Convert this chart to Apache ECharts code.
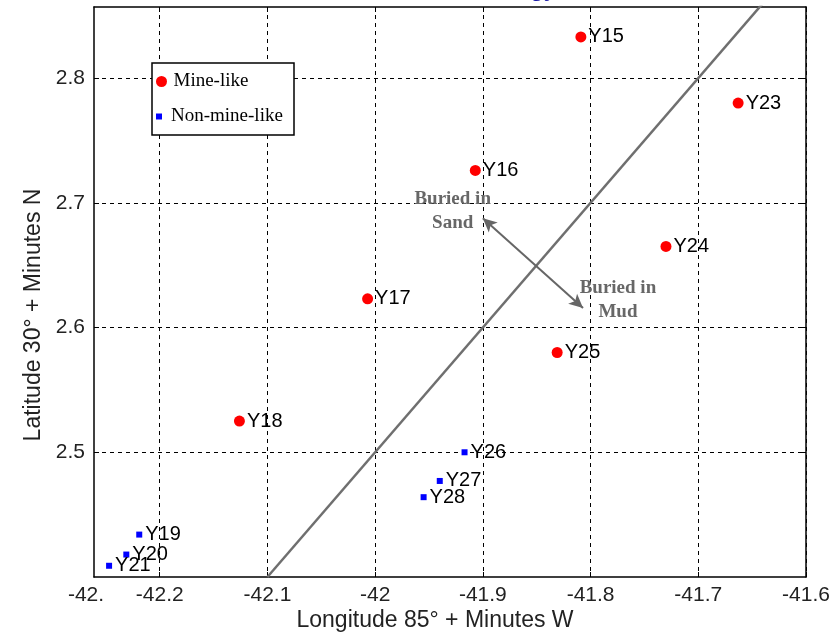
<!DOCTYPE html>
<html>
<head>
<meta charset="utf-8">
<script src="https://cdn.jsdelivr.net/npm/echarts@6/dist/echarts.min.js"></script>
<style>html,body{margin:0;padding:0;background:#fff;}#chart{width:840px;height:635px;}</style>
</head>
<body>
<div id="chart"></div>
<script>
// ---- data ----
var mineNames = ['Y15', 'Y16', 'Y17', 'Y18', 'Y23', 'Y24', 'Y25'];
var mineLon = [-41.809, -41.907, -42.007, -42.126, -41.663, -41.730, -41.831];
var mineLat = [2.833, 2.726, 2.623, 2.525, 2.780, 2.665, 2.580];

var nonNames = ['Y19', 'Y20', 'Y21', 'Y26', 'Y27', 'Y28'];
var nonLon = [-42.219, -42.231, -42.247, -41.917, -41.940, -41.955];
var nonLat = [2.434, 2.418, 2.409, 2.500, 2.477, 2.464];

var xTicks = [-42.2, -42.1, -42, -41.9, -41.8, -41.7, -41.6];
var yTicks = [2.5, 2.6, 2.7, 2.8];
var xRange = [-42.261, -41.6];
var yRange = [2.4, 2.857];

var boundaryLine = [[-42.1, 2.4], [-41.6, 2.9]];
var arrowEnds = [[-41.900, 2.6877], [-41.807, 2.6156]];
var annoText = ['Buried in\nSand', 'Buried in\nMud'];
var annoPos = [[-41.928, 2.6933], [-41.7746, 2.622]];

// ---- build ----
function pts(lon, lat, names) {
  return lon.map(function (v, i) { return { value: [v, lat[i]], name: names[i] }; });
}
var sans = 'Liberation Sans, Arial, sans-serif';
var serif = 'Liberation Serif, Times New Roman, serif';

var chart = echarts.init(document.getElementById('chart'), null, { renderer: 'canvas' });
var pointLabel = {
  show: true, position: 'right', formatter: '{b}',
  fontFamily: sans, fontSize: 20, color: '#000'
};
var option = {
  backgroundColor: '#fff',
  animation: false,
  grid: { left: 94, right: 34, top: 7, bottom: 58, containLabel: false },
  xAxis: [{
    type: 'value', min: xRange[0], max: xRange[1],
    axisLine: { show: true, onZero: false, lineStyle: { color: '#000', width: 1.5 } },
    axisTick: { show: true, inside: true, length: 5, customValues: xTicks, lineStyle: { color: '#000' } },
    axisLabel: {
      show: true, margin: 8, fontFamily: sans, fontSize: 21, color: '#222',
      customValues: [xRange[0]].concat(xTicks),
      formatter: function (v) { return v < -42.25 ? '{a|-42.}' : String(+v.toFixed(1)); },
      rich: { a: { fontFamily: sans, fontSize: 21, color: '#222', padding: [0, 16, 0, 0] } }
    },
    splitLine: { show: true, lineStyle: { color: '#000', type: [4, 4], width: 1 } }
  }, {
    type: 'value', position: 'top', min: xRange[0], max: xRange[1],
    axisLine: { show: true, onZero: false, lineStyle: { color: '#000', width: 1.5 } },
    axisTick: { show: true, inside: true, length: 5, customValues: xTicks, lineStyle: { color: '#000' } },
    axisLabel: { show: false },
    splitLine: { show: false }
  }],
  yAxis: [{
    type: 'value', min: yRange[0], max: yRange[1],
    axisLine: { show: true, onZero: false, lineStyle: { color: '#000', width: 1.5 } },
    axisTick: { show: true, inside: true, length: 5, customValues: yTicks, lineStyle: { color: '#000' } },
    axisLabel: {
      show: true, margin: 9, fontFamily: sans, fontSize: 21, color: '#222',
      customValues: yTicks,
      formatter: function (v) { return String(+v.toFixed(1)); }
    },
    splitLine: { show: true, lineStyle: { color: '#000', type: [4, 4], width: 1 } }
  }, {
    type: 'value', position: 'right', min: yRange[0], max: yRange[1],
    axisLine: { show: true, onZero: false, lineStyle: { color: '#000', width: 1.5 } },
    axisTick: { show: true, inside: true, length: 5, customValues: yTicks, lineStyle: { color: '#000' } },
    axisLabel: { show: false },
    splitLine: { show: false }
  }],
  legend: [{
    data: ['Mine-like'], orient: 'vertical', left: 156, top: 72, padding: 0,
    itemWidth: 14, itemHeight: 11, icon: 'circle', selectedMode: false,
    textStyle: { fontFamily: serif, fontSize: 19, color: '#000' }, z: 10
  }, {
    data: ['Non-mine-like'], orient: 'vertical', left: 156, top: 107, padding: 0,
    itemWidth: 14, itemHeight: 6, icon: 'path://M0,0L1,0L1,1L0,1Z', selectedMode: false,
    textStyle: { fontFamily: serif, fontSize: 19, color: '#000' }, z: 10
  }],
  graphic: [
    { type: 'rect', z: 5, shape: { x: 152, y: 63, width: 142, height: 72 },
      style: { fill: '#fff', stroke: '#000', lineWidth: 1.5 } },
    { type: 'text', z: 5, x: 34, y: 315, rotation: Math.PI / 2,
      style: { text: 'Latitude 30° + Minutes N', fontFamily: sans, fontSize: 23, fill: '#222',
        align: 'center', verticalAlign: 'middle' } },
    { type: 'text', z: 5, x: 435, y: 621,
      style: { text: 'Longitude 85° + Minutes W', fontFamily: sans, fontSize: 23, fill: '#222',
        align: 'center', verticalAlign: 'middle' } },
    { type: 'text', z: 5, x: 556, y: 1,
      style: { text: 'ogy', fontFamily: sans, fontWeight: 'bold', fontSize: 22, fill: '#1a1aa8',
        align: 'right', verticalAlign: 'bottom' } }
  ],
  series: [{
    name: 'boundary', type: 'line', data: boundaryLine, showSymbol: false, symbol: 'none',
    lineStyle: { color: '#6f6f6f', width: 2.5 }, z: 3, silent: true,
    markLine: {
      silent: true, symbol: ['arrow', 'arrow'], symbolSize: [10, 14],
      label: { show: false },
      lineStyle: { color: '#666', width: 2, type: 'solid' },
      data: [[{ coord: arrowEnds[0] }, { coord: arrowEnds[1] }]]
    }
  }, {
    name: 'annotations', type: 'scatter', symbolSize: 0, silent: true,
    itemStyle: { opacity: 1 },
    data: annoPos.map(function (p, i) { return { value: p, name: annoText[i] }; }),
    label: { show: true, position: 'inside', formatter: '{b}', fontFamily: serif, fontWeight: 'bold',
      fontSize: 19, lineHeight: 24, color: '#676767', align: 'center' }
  }, {
    name: 'Mine-like', type: 'scatter', symbol: 'circle', symbolSize: 11,
    itemStyle: { color: '#ff0000', opacity: 1 },
    data: pts(mineLon, mineLat, mineNames),
    label: Object.assign({ distance: 2 }, pointLabel), z: 4
  }, {
    name: 'Non-mine-like', type: 'scatter', symbol: 'rect', symbolSize: 6,
    itemStyle: { color: '#0000ff', opacity: 1 },
    data: pts(nonLon, nonLat, nonNames),
    label: Object.assign({ distance: 3 }, pointLabel), z: 4
  }]
};
chart.setOption(option);
</script>
</body>
</html>
